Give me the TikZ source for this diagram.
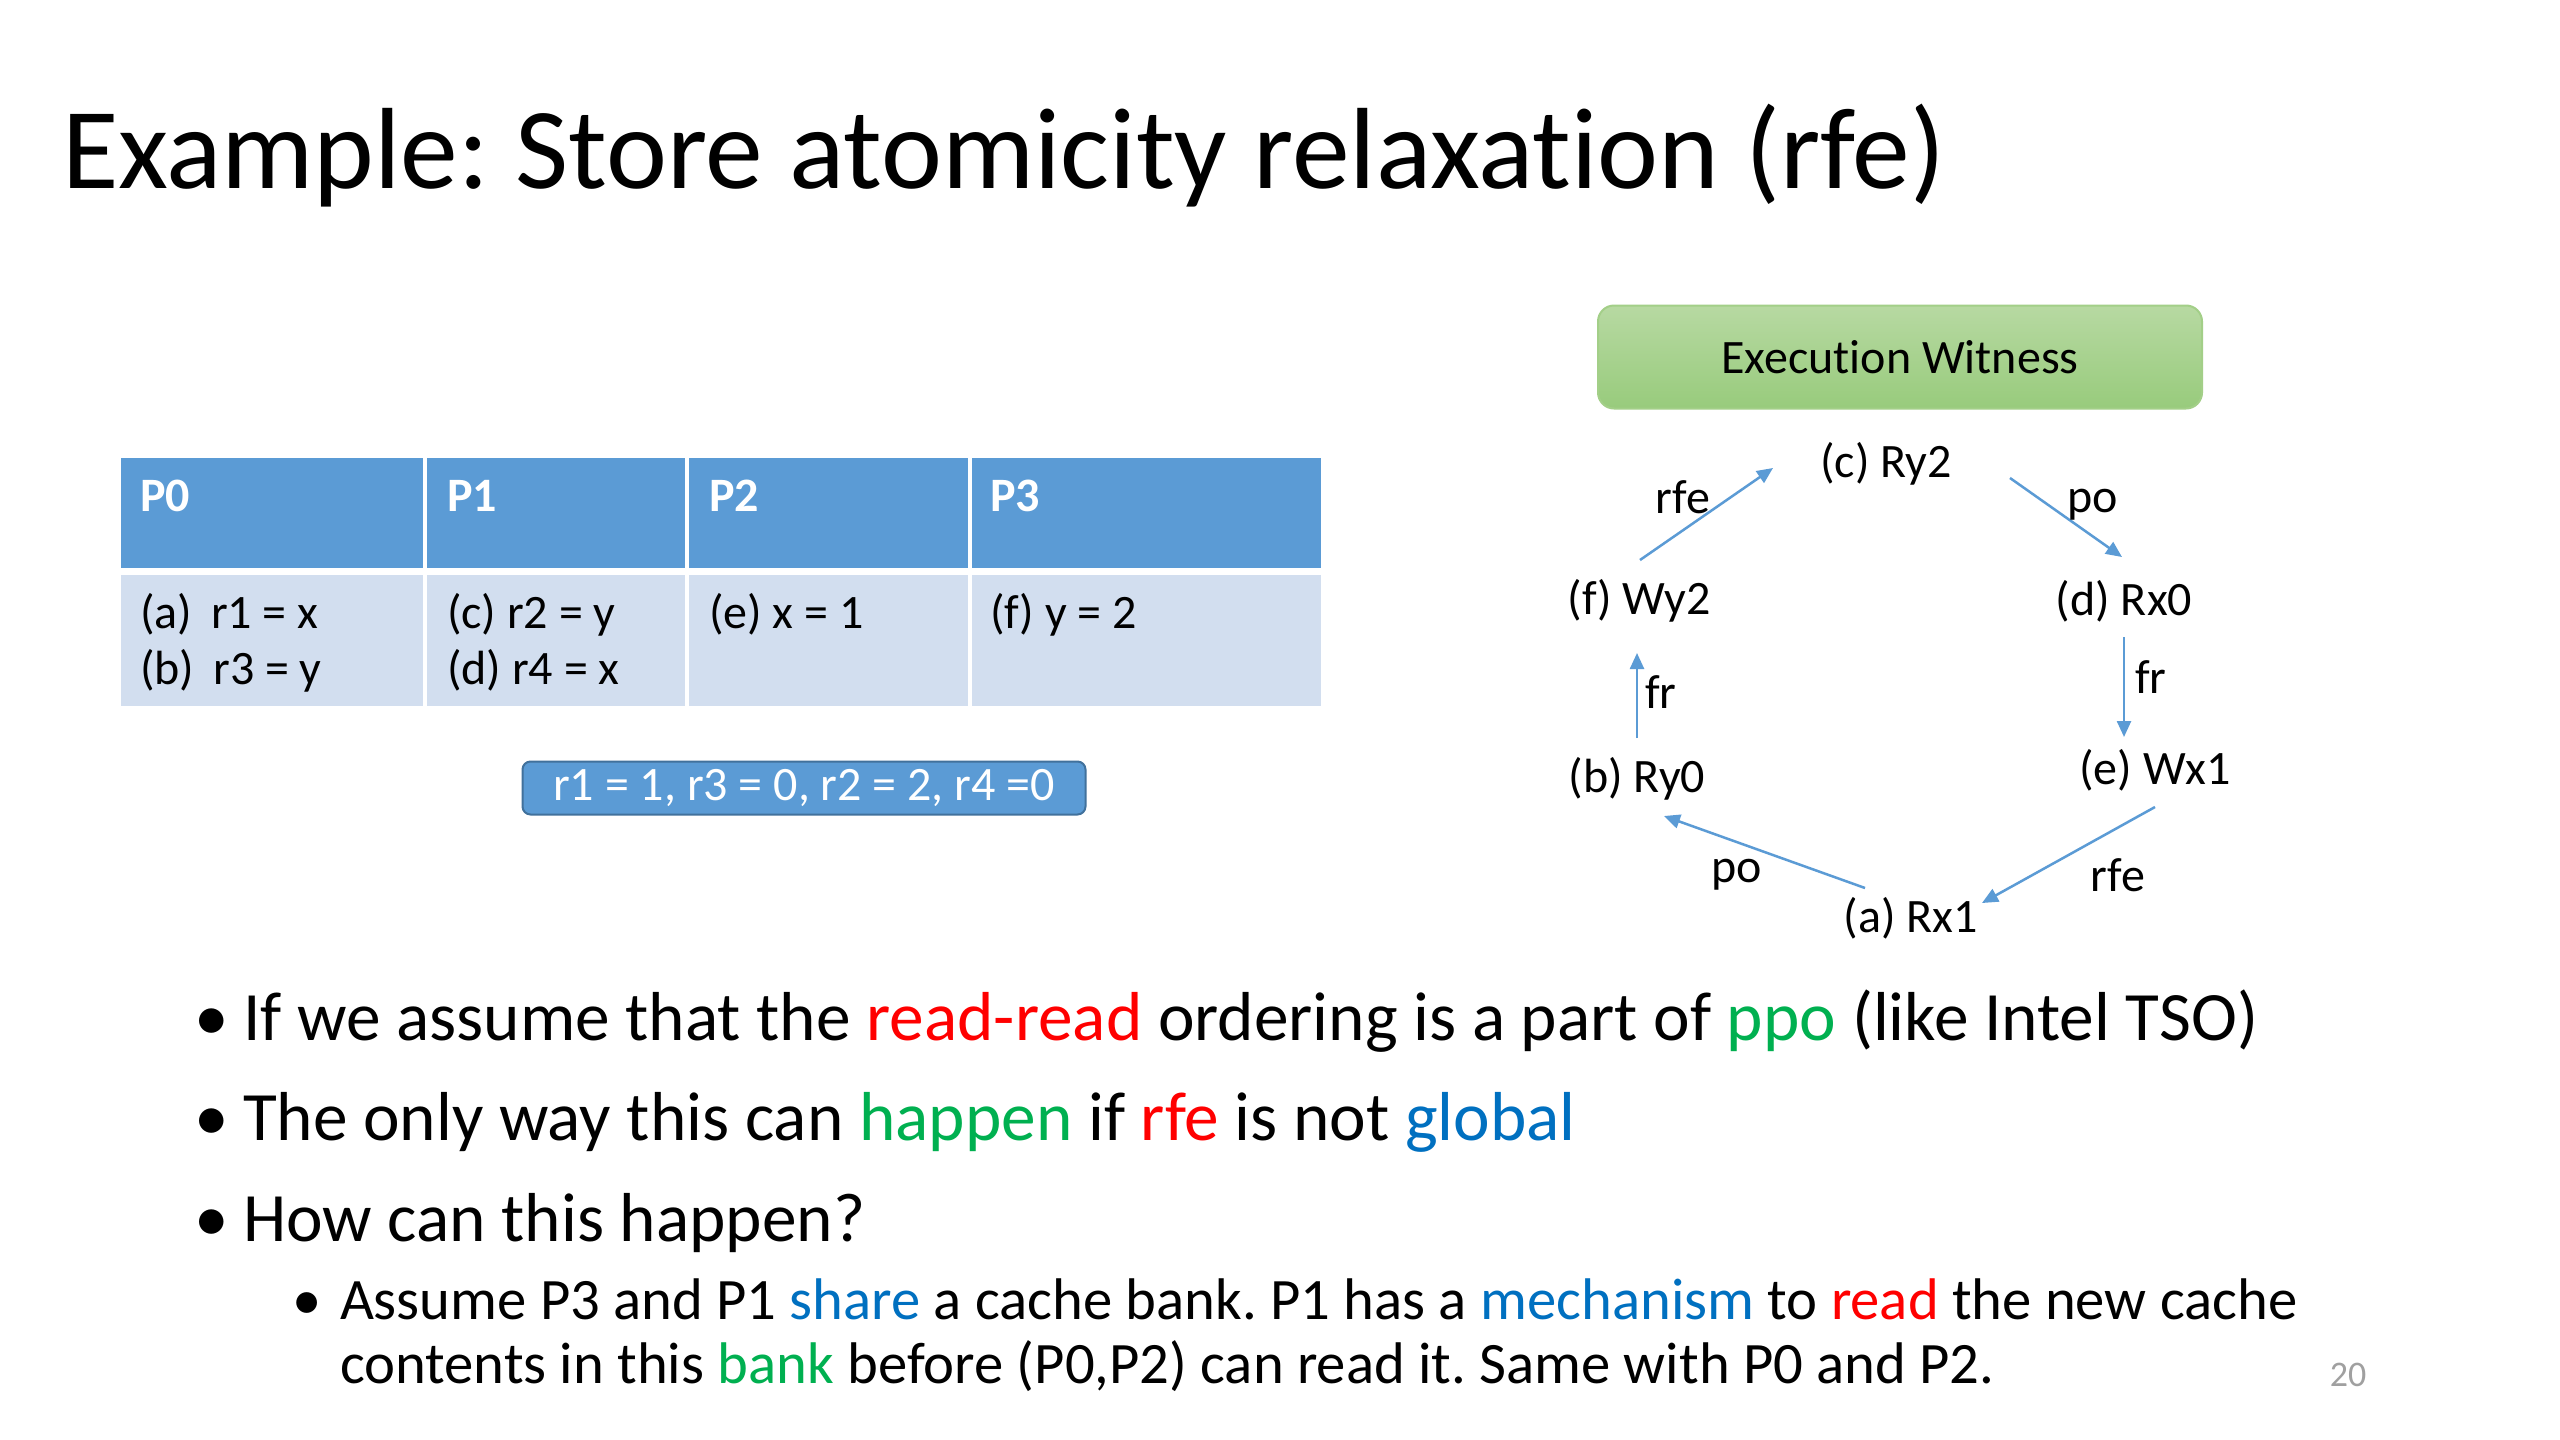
\documentclass[tikz,border=0pt]{standalone}
\usepackage{fontspec}
\setmainfont[Ligatures=NoCommon]{Carlito}
\usetikzlibrary{arrows.meta,calc}
\definecolor{hdr}{HTML}{5B9BD5}
\definecolor{bodyc}{HTML}{D2DEEF}
\definecolor{boxborder}{HTML}{41719C}
\definecolor{myred}{HTML}{FF0000}
\definecolor{mygreen}{HTML}{00B050}
\definecolor{myblue}{HTML}{0070C0}
\definecolor{arrowc}{HTML}{5B9BD5}
\definecolor{gtop}{HTML}{B7D9A2}
\definecolor{gbot}{HTML}{98CB7C}
\definecolor{gborder}{HTML}{A3CF88}
\definecolor{pgnum}{HTML}{A0A0A0}
\newcommand\fpx[1]{\fontsize{#1}{#1}\selectfont}
\frenchspacing
\begin{document}
\begin{tikzpicture}[x=1pt,y=-1pt,
  every node/.style={inner sep=0pt,outer sep=0pt},
  titletxt/.style={anchor=base west,font=\fpx{115.5}},
  bul/.style={anchor=base west,font=\fpx{69.3}},
  subb/.style={anchor=base west,font=\fpx{58.7}},
  cell/.style={anchor=base west,font=\fpx{48}},
  hcell/.style={anchor=base west,font=\fpx{48}\bfseries,text=white},
  ev/.style={font=\fpx{48}},
  lbl/.style={font=\fpx{48}},
  arr/.style={draw=arrowc,line width=2.5pt,-{Triangle[length=16pt,width=14pt]}}]
\fill[white] (0,0) rectangle (2560,1440);
\useasboundingbox (0,0) rectangle (2560,1440);

% title
\node[titletxt] (title) at (62,188) {Example: Store atomicity relaxation (rfe)};

% table
\fill[hdr] (121,458) rectangle (423,568);
\fill[hdr] (427,458) rectangle (685,568);
\fill[hdr] (689,458) rectangle (968,568);
\fill[hdr] (972,458) rectangle (1321,568);
\fill[bodyc] (121,575) rectangle (423,706);
\fill[bodyc] (427,575) rectangle (685,706);
\fill[bodyc] (689,575) rectangle (968,706);
\fill[bodyc] (972,575) rectangle (1321,706);
\node[hcell] (h0) at (140,511) {P0};
\node[hcell] (h1) at (447,511) {P1};
\node[hcell] (h2) at (709,511) {P2};
\node[hcell] (h3) at (990,511) {P3};
\node[cell] (ca) at (140,628) {(a)\hspace{19pt}r1 = x};
\node[cell] (cb) at (140,684) {(b)\hspace{19pt}r3 = y};
\node[cell] (cc) at (447,628) {(c) r2 = y};
\node[cell] (cd) at (447,684) {(d) r4 = x};
\node[cell] (ce) at (709,628) {(e) x = 1};
\node[cell] (cf) at (990,628) {(f) y = 2};

% result box
\node[draw=boxborder,fill=hdr,rounded corners=8pt,line width=2pt,
      minimum width=563pt,minimum height=53pt,text=white,font=\fpx{48}]
      (res) at (804,788) {r1 = 1, r3 = 0, r2 = 2, r4 =0};

% execution witness
\node[rounded corners=16pt,top color=gtop,bottom color=gbot,draw=gborder,
      line width=2pt,minimum width=604pt,minimum height=103pt,font=\fpx{48}]
      (ew) at (1900,357) {Execution Witness};

% events
\node[ev] (c) at (1886,464) {(c) Ry2};
\node[ev] (d) at (2124,601) {(d) Rx0};
\node[ev] (e) at (2155,770) {(e) Wx1};
\node[ev] (a) at (1911,918) {(a) Rx1};
\node[ev] (b) at (1637,779) {(b) Ry0};
\node[ev] (f) at (1639,601) {(f) Wy2};

% edges
\draw[arr] ([xshift=1pt,yshift=41pt]f.center) -- ([xshift=-113pt,yshift=-4pt]c.center);
\draw[arr] ([xshift=124pt,yshift=-14pt]c.center) -- ([xshift=-2pt,yshift=44pt]d.center);
\draw[arr] ([yshift=-36pt]d.center) -- ([yshift=33pt]d.center |- e.center);
\draw[arr] ([yshift=-37pt]e.center) -- ([xshift=71pt,yshift=15pt]a.center);
\draw[arr] ([xshift=-46pt,yshift=30pt]a.center) -- ([xshift=27pt,yshift=-37pt]b.center);
\draw[arr] ([yshift=41pt]b.center) -- ([yshift=-52pt]b.center |- f.center);

% edge labels
\node[lbl] (l1) at (1683,497) {rfe};
\node[lbl] (l2) at (2093,505) {po};
\node[lbl] (l3) at (2151,677) {fr};
\node[lbl] (l4) at (2118,875) {rfe};
\node[lbl] (l5) at (1737,875) {po};
\node[lbl] (l6) at (1661,692) {fr};

% bullets
\node[bul] (b1d) at (194,1040) {•};
\node[bul] (b1) at (243,1040) {If we assume that the \textcolor{myred}{read-read} ordering is a part of \textcolor{mygreen}{ppo} (like Intel TSO)};
\node[bul] (b2d) at (194,1140) {•};
\node[bul] (b2) at (243,1140) {The only way this can \textcolor{mygreen}{happen} if \textcolor{myred}{rfe} is not \textcolor{myblue}{global}};
\node[bul] (b3d) at (194,1241) {•};
\node[bul] (b3) at (243,1241) {How can this happen?};
\node[subb] (s1d) at (292,1319) {•};
\node[subb] (s1) at (340,1319) {Assume P3 and P1 \textcolor{myblue}{share} a cache bank. P1 has a \textcolor{myblue}{mechanism} to \textcolor{myred}{read} the new cache};
\node[subb] (s2) at (340,1383) {contents in this \textcolor{mygreen}{bank} before (P0,P2) can read it. Same with P0 and P2.};

% page number
\node[font=\fpx{36},text=pgnum] (pg) at (2348,1375) {20};
\end{tikzpicture}
\end{document}
